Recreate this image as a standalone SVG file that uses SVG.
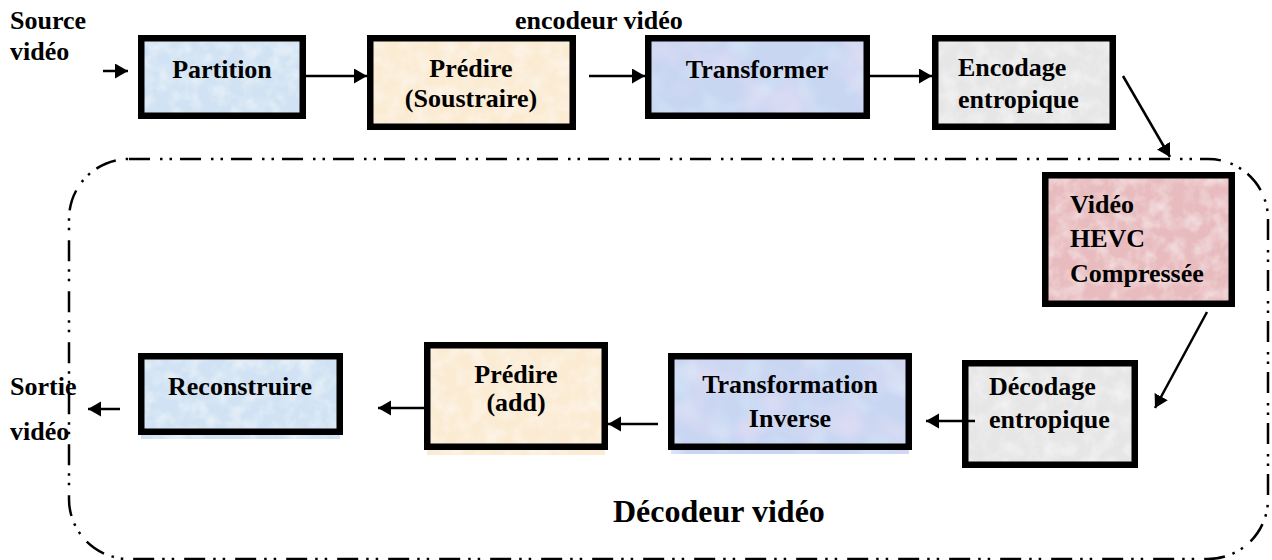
<svg xmlns="http://www.w3.org/2000/svg" width="1272" height="560" viewBox="0 0 1272 560" font-family="'Liberation Serif', 'DejaVu Serif', serif" font-weight="bold">
  <style>
    text { font-family: 'Liberation Serif', 'DejaVu Serif', serif; font-weight: 700; font-size: 26px; fill: #000; }
    .mid { text-anchor: middle; }
    .title { font-size: 32px; }
    .box { stroke: #000; stroke-width: 6.5; fill: none; }
    .wire { stroke: #000; stroke-width: 2.5; fill: none; }
    .frame { stroke: #000; stroke-width: 2.5; fill: none; stroke-dasharray: 21 10 2.5 7 2.5 8; }
    .blue { fill: #d0e2f3; }
    .beige { fill: #fbebd3; }
    .lilac { fill: #c8d6f2; }
    .grey { fill: #e6e6e6; }
    .pink { fill: #e8bcbf; }
  </style>
  <defs>
    <!-- soft mottled paper texture laid over the flat box colours -->
    <filter id="grain" x="0" y="0" width="100%" height="100%">
      <feTurbulence type="fractalNoise" baseFrequency="0.07" numOctaves="3" seed="7" result="n"/>
      <feColorMatrix in="n" type="matrix" values="0 0 0 0 1  0 0 0 0 1  0 0 0 0 1  0 0 0 -0.9 0.55" result="w"/>
      <feComposite in="w" in2="SourceGraphic" operator="in" result="wc"/>
      <feMerge><feMergeNode in="SourceGraphic"/><feMergeNode in="wc"/></feMerge>
    </filter>
    <filter id="tint" x="0" y="0" width="100%" height="100%">
      <feTurbulence type="fractalNoise" baseFrequency="0.025" numOctaves="2" seed="11" result="n"/>
      <feColorMatrix in="n" type="matrix" values="0 0 0 0 0.92  0 0 0 0 0.78  0 0 0 0 0.93  1.1 0 0 0 -0.5" result="p"/>
      <feComposite in="p" in2="SourceGraphic" operator="in" result="pc"/>
      <feTurbulence type="fractalNoise" baseFrequency="0.03" numOctaves="2" seed="23" result="m"/>
      <feColorMatrix in="m" type="matrix" values="0 0 0 0 0.74  0 0 0 0 0.93  0 0 0 0 0.97  1.1 0 0 0 -0.55" result="c"/>
      <feComposite in="c" in2="SourceGraphic" operator="in" result="cc"/>
      <feMerge><feMergeNode in="SourceGraphic"/><feMergeNode in="pc"/><feMergeNode in="cc"/></feMerge>
    </filter>
    <marker id="head" markerUnits="userSpaceOnUse" markerWidth="14" markerHeight="16" refX="13" refY="7.5" orient="auto">
      <path d="M0,0 L13,7.5 L0,15 z" fill="#000"/>
    </marker>
  </defs>

  <!-- decoder frame (dash-dot-dot rounded outline) -->
  <rect class="frame" x="69" y="159" width="1199" height="400" rx="60" ry="60"/>

  <!-- encoder row -->
  <g id="source-label">
    <text x="10" y="29">Source</text>
    <text x="10" y="60">vidéo</text>
  </g>
  <g id="encoder-label">
    <text x="515" y="29">encodeur vidéo</text>
  </g>

  <g id="partition">
    <rect class="blue" filter="url(#grain)" x="141" y="38" width="162" height="78"/>
    <rect class="box" x="141.25" y="38.25" width="161.5" height="77.5"/>
    <text class="mid" x="222" y="78">Partition</text>
  </g>

  <g id="predire-soustraire">
    <rect class="beige" filter="url(#grain)" x="370" y="38" width="203" height="89"/>
    <rect class="box" x="370.25" y="38.25" width="202.5" height="88.5"/>
    <text class="mid" x="471" y="77">Prédire</text>
    <text class="mid" x="471" y="107">(Soustraire)</text>
  </g>

  <g id="transformer">
    <rect class="lilac" filter="url(#tint)" x="648" y="38" width="219" height="78"/>
    <rect class="box" x="648.25" y="38.25" width="218.5" height="77.5"/>
    <text class="mid" x="757" y="78">Transformer</text>
  </g>

  <g id="encodage-entropique">
    <rect class="grey" filter="url(#grain)" x="935" y="38" width="178" height="89"/>
    <rect class="box" x="935.25" y="38.25" width="177.5" height="88.5"/>
    <text x="958" y="76">Encodage</text>
    <text x="958" y="108">entropique</text>
  </g>

  <g id="video-hevc">
    <rect class="pink" filter="url(#grain)" x="1045" y="175" width="187" height="129"/>
    <rect class="box" x="1045.25" y="175.25" width="186.5" height="128.5"/>
    <text x="1070" y="213">Vidéo</text>
    <text x="1070" y="247">HEVC</text>
    <text x="1070" y="282">Compressée</text>
  </g>

  <!-- decoder row -->
  <g id="decodage-entropique">
    <rect class="grey" filter="url(#grain)" x="965" y="363" width="170" height="102"/>
    <rect class="box" x="965.25" y="363.25" width="169.5" height="101.5"/>
    <text x="989" y="395">Décodage</text>
    <text x="989" y="428">entropique</text>
  </g>

  <g id="transformation-inverse">
    <rect class="lilac" filter="url(#tint)" x="671" y="356" width="238" height="98"/>
    <rect class="box" x="671.25" y="356.25" width="237.5" height="90.5"/>
    <text class="mid" x="790" y="393">Transformation</text>
    <text class="mid" x="790" y="427">Inverse</text>
  </g>

  <g id="predire-add">
    <rect class="beige" filter="url(#grain)" x="427" y="345" width="178" height="110"/>
    <rect class="box" x="427.25" y="345.25" width="177.5" height="101.5"/>
    <text class="mid" x="516" y="383">Prédire</text>
    <text class="mid" x="516" y="411">(add)</text>
  </g>

  <g id="reconstruire">
    <rect class="blue" filter="url(#grain)" x="141" y="356" width="199" height="83"/>
    <rect class="box" x="141.25" y="356.25" width="198.5" height="75.5"/>
    <text class="mid" x="240" y="395">Reconstruire</text>
  </g>

  <g id="sortie-label">
    <text x="10" y="395">Sortie</text>
    <text x="10" y="440">vidéo</text>
  </g>

  <g id="decoder-label">
    <text class="title" x="613" y="522">Décodeur vidéo</text>
  </g>

  <!-- connectors -->
  <g id="connectors">
    <line class="wire" x1="103" y1="71" x2="128" y2="71" marker-end="url(#head)"/>
    <line class="wire" x1="306" y1="76" x2="367" y2="76" marker-end="url(#head)"/>
    <line class="wire" x1="589" y1="76" x2="645" y2="76" marker-end="url(#head)"/>
    <line class="wire" x1="870" y1="76" x2="932" y2="76" marker-end="url(#head)"/>
    <line class="wire" x1="1123" y1="76" x2="1170" y2="157" marker-end="url(#head)"/>
    <line class="wire" x1="1207" y1="312" x2="1155" y2="408" marker-end="url(#head)"/>
    <line class="wire" x1="975" y1="421" x2="926" y2="421" marker-end="url(#head)"/>
    <line class="wire" x1="658" y1="424" x2="608" y2="424" marker-end="url(#head)"/>
    <line class="wire" x1="424" y1="408" x2="378" y2="408" marker-end="url(#head)"/>
    <line class="wire" x1="120" y1="409" x2="88" y2="409" marker-end="url(#head)"/>
  </g>
</svg>
